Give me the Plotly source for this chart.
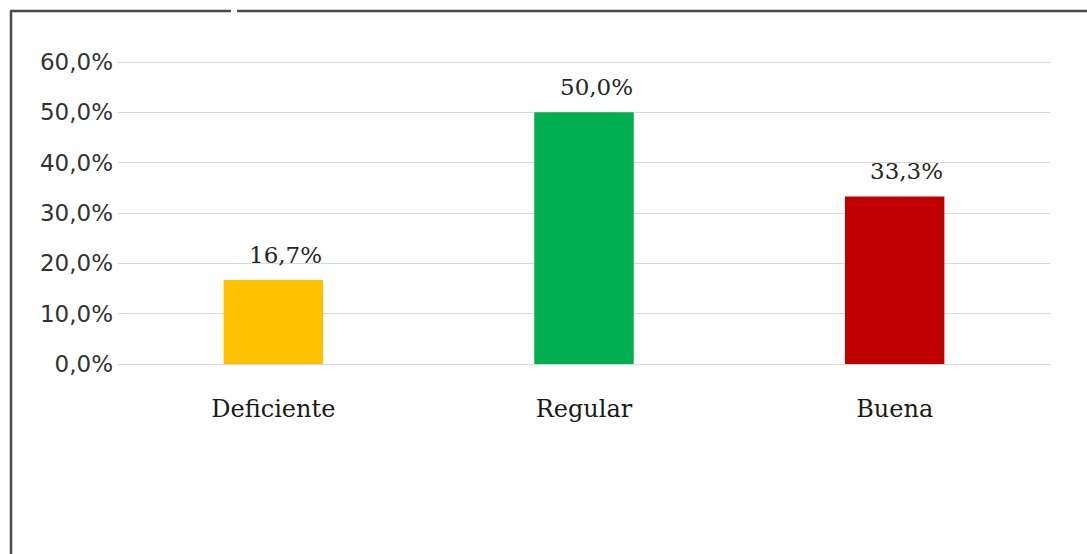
import plotly.graph_objects as go

categories = ["Deficiente", "Regular", "Buena"]
values = [16.7, 50.0, 33.3]
colors = ["#FFC000", "#00B050", "#C00000"]
tick_vals = [0, 10, 20, 30, 40, 50, 60]
tick_text = [f"{t:.1f}".replace(".", ",") + "%" for t in tick_vals]

W, H = 1087, 554
L, R, T, B = 118, 37, 59, 190
pw, ph = W - L - R, H - T - B

def px(x):
    return (x - L) / pw

def py(y):
    return (H - B - y) / ph

fig = go.Figure()
fig.add_trace(go.Bar(
    x=categories, y=values, marker=dict(color=colors, line=dict(width=0)),
    width=0.32, hoverinfo="skip",
))

for c, v in zip(categories, values):
    fig.add_annotation(
        x=c, y=v, xref="x", yref="y",
        text=f"{v:.1f}".replace(".", ",") + "%",
        showarrow=False, yanchor="middle", yshift=25, xshift=12,
        font=dict(family="DejaVu Serif", size=23, color="#262626"),
    )

line_style = dict(color="#4a4a4a", width=2.5)
shapes = [
    dict(type="line", xref="paper", yref="paper", x0=px(11), x1=px(11), y0=py(11), y1=py(560), line=line_style),
    dict(type="line", xref="paper", yref="paper", x0=px(10), x1=px(231), y0=py(11), y1=py(11), line=line_style),
    dict(type="line", xref="paper", yref="paper", x0=px(237), x1=px(1090), y0=py(11), y1=py(11), line=line_style),
]

fig.update_layout(
    width=W, height=H,
    margin=dict(l=L, r=R, t=T, b=B),
    paper_bgcolor="white", plot_bgcolor="white",
    showlegend=False,
    shapes=shapes,
    xaxis=dict(
        showgrid=False, showline=False, zeroline=False,
        tickfont=dict(family="DejaVu Serif", size=24, color="#1a1a1a"),
        ticklabelstandoff=28,
    ),
    yaxis=dict(
        range=[0, 60.6], tickmode="array", tickvals=tick_vals, ticktext=tick_text,
        showgrid=True, gridcolor="#d9d9d9", gridwidth=1,
        zeroline=True, zerolinecolor="#d9d9d9", zerolinewidth=1,
        showline=False,
        tickfont=dict(family="DejaVu Sans", size=23, color="#333333"),
        ticklabelstandoff=4,
    ),
)

fig.write_html("out.html")
